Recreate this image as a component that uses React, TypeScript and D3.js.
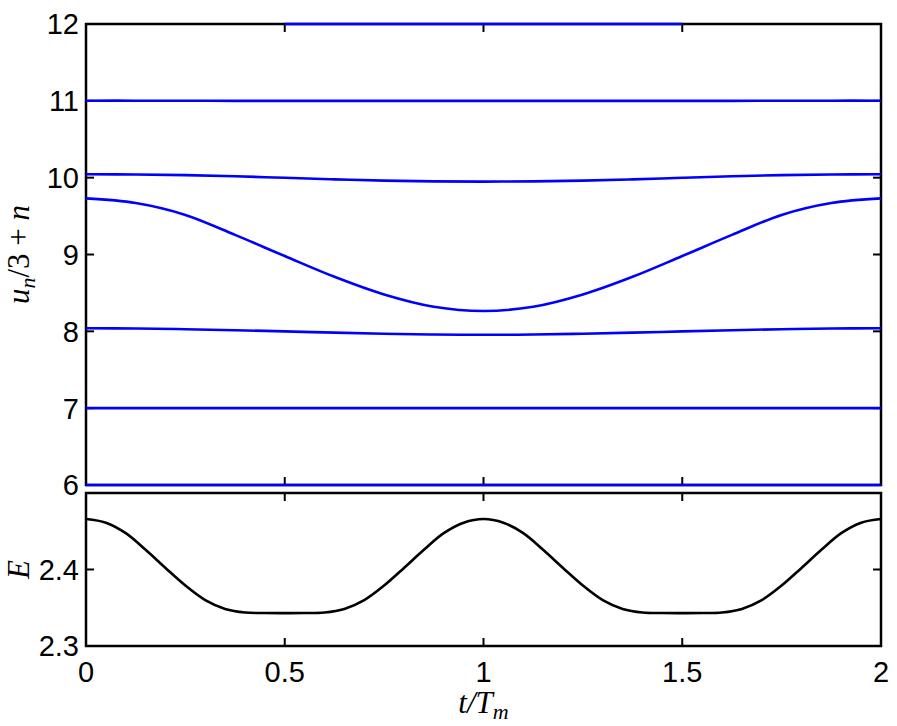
import { useEffect, useRef } from "react"
import * as d3 from "d3"

// time axis in units of T_m
const tGrid = [0, 0.125, 0.25, 0.375, 0.5, 0.625, 0.75, 0.875, 1, 1.125, 1.25, 1.375, 1.5, 1.625, 1.75, 1.875, 2]

// u_n/3 + n for each site
const u6 = [6, 6, 6, 6, 6, 6, 6, 6, 6, 6, 6, 6, 6, 6, 6, 6, 6]
const u7 = [7, 7, 7, 7, 7, 7, 7, 7, 7, 7, 7, 7, 7, 7, 7, 7, 7]
const u8 = [8.04, 8.037, 8.028, 8.015, 7.999, 7.983, 7.969, 7.958, 7.955, 7.958, 7.969, 7.983, 7.999, 8.015, 8.028, 8.037, 8.04]
const u9 = [9.73, 9.67, 9.515, 9.255, 8.98, 8.71, 8.48, 8.32, 8.265, 8.32, 8.48, 8.71, 8.98, 9.255, 9.515, 9.67, 9.73]
const u10 = [10.044, 10.041, 10.033, 10.018, 9.998, 9.978, 9.962, 9.952, 9.949, 9.952, 9.962, 9.978, 9.998, 10.018, 10.033, 10.041, 10.044]
const u11 = [11.002, 11.002, 11.001, 11.0, 11.0, 11.0, 10.999, 10.999, 10.999, 10.999, 10.999, 11.0, 11.0, 11.0, 11.001, 11.002, 11.002]
const u12 = [12.01, 12.01, 12.01, 12.005, 12, 12, 12, 12, 12, 12, 12, 12, 12, 12.005, 12.01, 12.01, 12.01]
const sites = [u6, u7, u8, u9, u10, u11, u12]

// energy
const tE = [0, 0.05, 0.1, 0.15, 0.2, 0.25, 0.3, 0.35, 0.4, 0.45, 0.5, 0.55, 0.6, 0.65, 0.7, 0.75, 0.8, 0.85, 0.9, 0.95, 1, 1.05, 1.1, 1.15, 1.2, 1.25, 1.3, 1.35, 1.4, 1.45, 1.5, 1.55, 1.6, 1.65, 1.7, 1.75, 1.8, 1.85, 1.9, 1.95, 2]
const energy = [2.466, 2.4612, 2.4475, 2.4258, 2.402, 2.379, 2.360, 2.3485, 2.3438, 2.3431, 2.343, 2.3431, 2.3438, 2.3485, 2.360, 2.379, 2.402, 2.4258, 2.4475, 2.4612, 2.466, 2.4612, 2.4475, 2.4258, 2.402, 2.379, 2.360, 2.3485, 2.3438, 2.3431, 2.343, 2.3431, 2.3438, 2.3485, 2.360, 2.379, 2.402, 2.4258, 2.4475, 2.4612, 2.466]

const xTicks = [0, 0.5, 1, 1.5, 2]
const xTickLabels = ["0", "0.5", "1", "1.5", "2"]
const uTicks = [6, 7, 8, 9, 10, 11, 12]
const eTicks = [2.3, 2.4]

const W = 897
const H = 726

export default function App() {
  const svgRef = useRef<SVGSVGElement>(null)

  useEffect(() => {
    const svg = d3.select(svgRef.current)
    svg.selectAll("*").remove()

    const left = 86
    const right = 881
    const top1 = 24
    const bot1 = 485
    const top2 = 493
    const bot2 = 646
    const tickLen = 8
    const font = "'Liberation Sans', Arial, Helvetica, sans-serif"
    const fs = 29

    const x = d3.scaleLinear().domain([0, 2]).range([left, right])
    const yU = d3.scaleLinear().domain([6, 12]).range([bot1, top1])
    const yE = d3.scaleLinear().domain([2.3, 2.5]).range([bot2, top2])

    const drawFrame = (y: d3.ScaleLinear<number, number>, yt: number[], t: number, b: number) => {
      const g = svg.append("g")
      g.append("rect")
        .attr("x", left)
        .attr("y", t)
        .attr("width", right - left)
        .attr("height", b - t)
        .attr("fill", "none")
        .attr("stroke", "#000")
        .attr("stroke-width", 2.5)
      xTicks.forEach((v) => {
        g.append("line").attr("x1", x(v)).attr("x2", x(v)).attr("y1", b).attr("y2", b - tickLen).attr("stroke", "#000").attr("stroke-width", 2)
        g.append("line").attr("x1", x(v)).attr("x2", x(v)).attr("y1", t).attr("y2", t + tickLen).attr("stroke", "#000").attr("stroke-width", 2)
      })
      yt.forEach((v) => {
        g.append("line").attr("x1", left).attr("x2", left + tickLen).attr("y1", y(v)).attr("y2", y(v)).attr("stroke", "#000").attr("stroke-width", 2)
        g.append("line").attr("x1", right).attr("x2", right - tickLen).attr("y1", y(v)).attr("y2", y(v)).attr("stroke", "#000").attr("stroke-width", 2)
        g.append("text")
          .attr("x", left - 7)
          .attr("y", y(v))
          .attr("dy", "0.36em")
          .attr("text-anchor", "end")
          .style("font-family", font)
          .style("font-size", `${fs}px`)
          .text(v.toString())
      })
    }

    drawFrame(yU, uTicks, top1, bot1)
    drawFrame(yE, eTicks, top2, bot2)

    // site displacements
    sites.forEach((vals) => {
      const line = d3
        .line<number>()
        .defined((v) => v <= 12)
        .x((_, i) => x(tGrid[i]))
        .y((v) => yU(v))
        .curve(d3.curveCatmullRom.alpha(0.5))
      svg.append("path").datum(vals).attr("fill", "none").attr("stroke", "#0000ff").attr("stroke-width", 2.6).attr("d", line)
    })

    // energy
    const eLine = d3
      .line<number>()
      .x((_, i) => x(tE[i]))
      .y((v) => yE(v))
      .curve(d3.curveCatmullRom.alpha(0.5))
    svg.append("path").datum(energy).attr("fill", "none").attr("stroke", "#000").attr("stroke-width", 2.6).attr("d", eLine)

    // x tick labels
    xTicks.forEach((v, i) => {
      svg
        .append("text")
        .attr("x", x(v))
        .attr("y", 682)
        .attr("text-anchor", "middle")
        .style("font-family", font)
        .style("font-size", `${fs}px`)
        .text(xTickLabels[i])
    })

    const serif = "'Liberation Serif', 'Times New Roman', serif"

    // x label t/T_m
    const xl = svg
      .append("text")
      .attr("x", x(1))
      .attr("y", 713)
      .attr("text-anchor", "middle")
      .style("font-family", serif)
      .style("font-style", "italic")
      .style("font-size", "31px")
    xl.append("tspan").text("t/T")
    xl.append("tspan").attr("dy", 6).style("font-size", "22px").text("m")

    // y label u_n/3 + n
    const yl = svg
      .append("text")
      .attr("transform", `translate(29,${(top1 + bot1) / 2}) rotate(-90)`)
      .attr("text-anchor", "middle")
      .style("font-family", serif)
      .style("font-size", "31px")
    yl.append("tspan").style("font-style", "italic").text("u")
    yl.append("tspan").attr("dy", 6).style("font-style", "italic").style("font-size", "22px").text("n")
    yl.append("tspan").attr("dy", -6).text("/3 + ")
    yl.append("tspan").style("font-style", "italic").text("n")

    // y label E
    svg
      .append("text")
      .attr("transform", `translate(29,${(top2 + bot2) / 2}) rotate(-90)`)
      .attr("text-anchor", "middle")
      .style("font-family", serif)
      .style("font-style", "italic")
      .style("font-size", "31px")
      .text("E")
  }, [])

  return (
    <svg
      ref={svgRef}
      width={W}
      height={H}
      style={{ position: "absolute", left: 0, top: 0, background: "#fff" }}
    ></svg>
  )
}
